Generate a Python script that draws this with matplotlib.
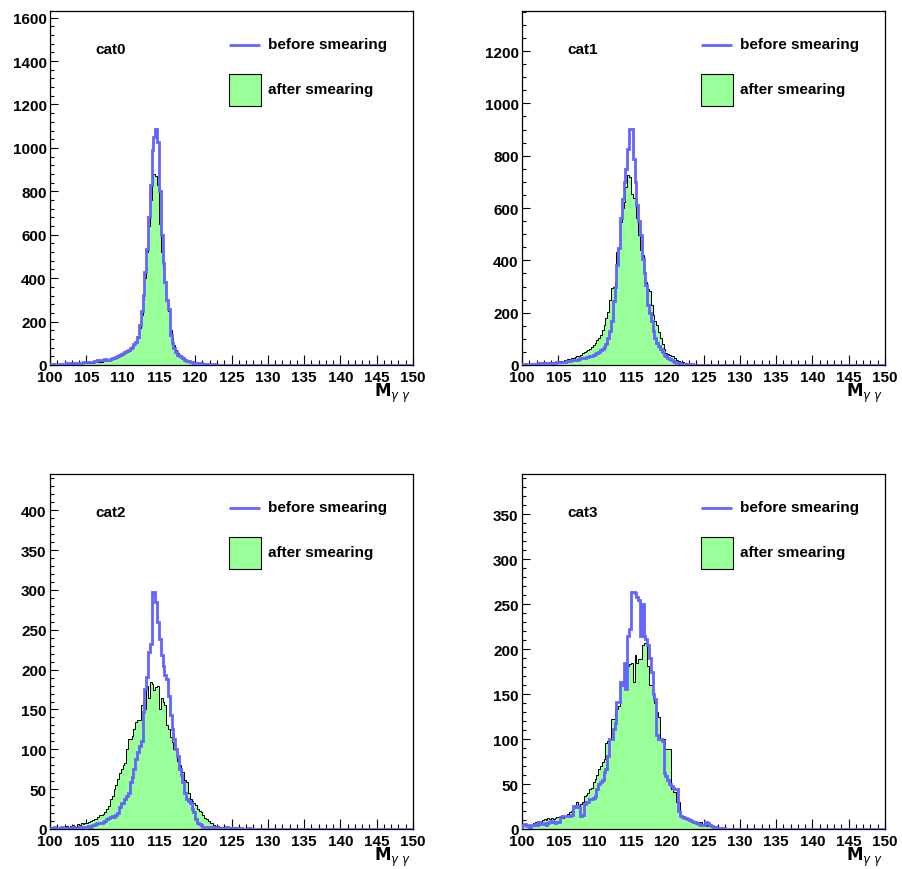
import numpy as np
import matplotlib
matplotlib.use("Agg")
import matplotlib.pyplot as plt
from matplotlib.ticker import MultipleLocator
from matplotlib.patches import Rectangle

# ---------------- data: bin contents, 200 bins of 0.25 from 100 to 150 (one row = 5 units) ----------------
x_min, x_max, n_bins = 100.0, 150.0, 200
categories = ["cat0", "cat1", "cat2", "cat3"]

cat0_before = [
    3, 3, 4, 4, 5, 4, 5, 6, 6, 7, 7, 8, 8, 9, 9, 10, 10, 11, 12, 12,
    13, 14, 15, 16, 18, 20, 22, 25, 24, 22, 26, 24, 23, 26, 30, 32, 36, 40, 46, 50,
    55, 60, 65, 70, 77, 85, 95, 107, 130, 184, 250, 322, 430, 536, 680, 827, 988, 1050, 1087, 1026,
    800, 597, 470, 383, 300, 260, 138, 100, 77, 60, 48, 40, 35, 30, 25, 20, 17, 15, 13, 11,
    10, 9, 8, 7, 6, 5, 5, 4, 3, 3, 3, 2, 2, 2, 2, 1, 1, 1, 1, 0,
    1, 0, 0, 1, 0, 0, 0, 0, 0, 0, 0, 0, 0, 0, 0, 0, 0, 0, 0, 0,
    0, 0, 0, 0, 0, 0, 0, 0, 0, 0, 0, 0, 0, 0, 0, 0, 0, 0, 0, 0,
    0, 0, 0, 0, 0, 0, 0, 0, 0, 0, 0, 0, 0, 0, 0, 0, 0, 0, 0, 0,
    0, 0, 0, 0, 0, 0, 0, 0, 0, 0, 0, 0, 0, 0, 0, 0, 0, 0, 0, 0,
    0, 0, 0, 0, 0, 0, 0, 0, 0, 0, 0, 0, 0, 0, 0, 0, 0, 0, 0, 0]
cat0_after = [
    2, 2, 2, 3, 2, 3, 3, 4, 4, 4, 5, 5, 5, 6, 6, 7, 7, 8, 8, 9,
    9, 10, 10, 11, 12, 13, 14, 15, 16, 17, 19, 21, 24, 26, 28, 30, 34, 38, 42, 46,
    50, 55, 60, 65, 72, 80, 90, 105, 125, 170, 230, 300, 400, 520, 640, 760, 830, 880, 870, 827,
    650, 520, 440, 380, 300, 250, 160, 130, 90, 70, 55, 45, 38, 32, 26, 22, 18, 15, 13, 11,
    9, 8, 7, 6, 5, 4, 4, 3, 3, 2, 2, 2, 1, 1, 1, 1, 1, 0, 1, 0,
    0, 0, 0, 0, 0, 0, 0, 0, 0, 0, 0, 0, 0, 0, 0, 0, 0, 0, 0, 0,
    0, 0, 0, 0, 0, 0, 0, 0, 0, 0, 0, 0, 0, 0, 0, 0, 0, 0, 0, 0,
    0, 0, 0, 0, 0, 0, 0, 0, 0, 0, 0, 0, 0, 0, 0, 0, 0, 0, 0, 0,
    0, 0, 0, 0, 0, 0, 0, 0, 0, 0, 0, 0, 0, 0, 0, 0, 0, 0, 0, 0,
    0, 0, 0, 0, 0, 0, 0, 0, 0, 0, 0, 0, 0, 0, 0, 0, 0, 0, 0, 0]
cat1_before = [
    3, 3, 3, 4, 4, 4, 5, 5, 5, 6, 6, 6, 7, 7, 7, 8, 8, 9, 9, 10,
    10, 11, 12, 13, 14, 15, 16, 18, 19, 20, 21, 23, 25, 27, 28, 30, 31, 33, 36, 40,
    43, 46, 50, 56, 62, 68, 80, 103, 130, 167, 243, 300, 382, 446, 560, 636, 700, 750, 826, 902,
    902, 788, 700, 610, 550, 496, 407, 350, 306, 230, 200, 167, 130, 103, 85, 71, 60, 50, 40, 33,
    28, 22, 18, 14, 11, 9, 7, 5, 4, 3, 3, 2, 2, 2, 1, 1, 1, 1, 1, 0,
    0, 0, 0, 0, 0, 0, 0, 0, 0, 0, 0, 0, 0, 0, 0, 0, 0, 0, 0, 0,
    0, 0, 0, 0, 0, 0, 0, 0, 0, 0, 0, 0, 0, 0, 0, 0, 0, 0, 0, 0,
    0, 0, 0, 0, 0, 0, 0, 0, 0, 0, 0, 0, 0, 0, 0, 0, 0, 0, 0, 0,
    0, 0, 0, 0, 0, 0, 0, 0, 0, 0, 0, 0, 0, 0, 0, 0, 0, 0, 0, 0,
    0, 0, 0, 0, 0, 0, 0, 0, 0, 0, 0, 0, 0, 0, 0, 0, 0, 0, 0, 0]
cat1_after = [
    3, 3, 4, 4, 4, 5, 5, 5, 6, 6, 7, 7, 8, 8, 9, 10, 10, 11, 12, 13,
    14, 15, 17, 18, 20, 22, 24, 26, 28, 31, 33, 36, 40, 45, 50, 53, 58, 63, 70, 78,
    85, 95, 105, 116, 135, 154, 180, 204, 250, 293, 300, 319, 433, 446, 547, 600, 624, 680, 725, 720,
    653, 640, 636, 560, 496, 440, 420, 360, 318, 290, 281, 230, 192, 170, 154, 125, 103, 80, 60, 46,
    42, 38, 35, 33, 25, 20, 15, 12, 10, 8, 7, 5, 4, 3, 3, 2, 2, 1, 1, 1,
    1, 1, 0, 1, 0, 0, 0, 0, 0, 0, 0, 0, 0, 0, 0, 0, 0, 0, 0, 0,
    0, 0, 0, 0, 0, 0, 0, 0, 0, 0, 0, 0, 0, 0, 0, 0, 0, 0, 0, 0,
    0, 0, 0, 0, 0, 0, 0, 0, 0, 0, 0, 0, 0, 0, 0, 0, 0, 0, 0, 0,
    0, 0, 0, 0, 0, 0, 0, 0, 0, 0, 0, 0, 0, 0, 0, 0, 0, 0, 0, 0,
    0, 0, 0, 0, 0, 0, 0, 0, 0, 0, 0, 0, 0, 0, 0, 0, 0, 0, 0, 0]
cat2_before = [
    1, 0, 2, 1, 1, 1, 2, 0, 1, 1, 0, 1, 2, 0, 1, 1, 2, 1, 3, 2,
    3, 4, 3, 5, 5, 6, 7, 8, 8, 9, 10, 12, 14, 15, 16, 15, 17, 20, 28, 33,
    33, 38, 42, 45, 59, 65, 75, 88, 97, 104, 110, 147, 176, 191, 222, 232, 297, 297, 285, 260,
    238, 218, 205, 193, 188, 167, 143, 126, 113, 100, 92, 75, 68, 59, 45, 38, 35, 33, 25, 21,
    12, 8, 6, 5, 3, 3, 2, 2, 2, 1, 1, 2, 1, 1, 0, 1, 1, 2, 1, 1,
    0, 1, 0, 1, 0, 1, 0, 0, 0, 1, 0, 0, 0, 0, 0, 0, 0, 0, 0, 0,
    0, 0, 0, 0, 0, 0, 0, 0, 0, 0, 0, 0, 0, 0, 0, 0, 0, 0, 0, 0,
    0, 0, 0, 0, 0, 0, 0, 0, 0, 0, 0, 0, 0, 0, 0, 0, 0, 0, 0, 0,
    0, 0, 0, 0, 0, 0, 0, 0, 0, 0, 0, 0, 0, 0, 0, 0, 0, 0, 0, 0,
    0, 0, 0, 0, 0, 0, 0, 0, 0, 0, 0, 0, 0, 0, 0, 0, 0, 0, 0, 0]
cat2_after = [
    2, 1, 2, 2, 1, 3, 2, 3, 2, 4, 3, 4, 5, 4, 3, 6, 5, 7, 6, 8,
    7, 9, 10, 11, 12, 13, 15, 17, 17, 19, 21, 25, 29, 38, 42, 50, 55, 63, 70, 75,
    80, 83, 100, 113, 113, 117, 125, 134, 137, 137, 155, 160, 150, 180, 165, 185, 182, 175, 178, 180,
    150, 164, 160, 155, 130, 126, 115, 109, 100, 100, 85, 80, 75, 71, 62, 59, 45, 38, 35, 33,
    30, 25, 22, 21, 18, 14, 12, 10, 8, 7, 5, 4, 4, 3, 3, 2, 2, 2, 1, 2,
    1, 1, 2, 1, 0, 1, 1, 0, 0, 0, 1, 0, 0, 0, 0, 0, 0, 0, 0, 0,
    0, 0, 0, 0, 0, 0, 0, 0, 0, 0, 0, 0, 0, 0, 0, 0, 0, 0, 0, 0,
    0, 0, 0, 0, 0, 0, 0, 0, 0, 0, 0, 0, 0, 0, 0, 0, 0, 0, 0, 0,
    0, 0, 0, 0, 0, 0, 0, 0, 0, 0, 0, 0, 0, 0, 0, 0, 0, 0, 0, 0,
    0, 0, 0, 0, 0, 0, 0, 0, 0, 0, 0, 0, 0, 0, 0, 0, 0, 0, 0, 0]
cat3_before = [
    4, 6, 5, 3, 2, 5, 4, 6, 5, 8, 6, 7, 6, 5, 7, 8, 9, 8, 7, 8,
    8, 13, 14, 14, 15, 14, 15, 16, 26, 25, 26, 24, 14, 16, 28, 30, 30, 33, 33, 35,
    37, 44, 50, 52, 55, 63, 67, 81, 100, 100, 111, 118, 141, 141, 163, 160, 185, 156, 215, 222,
    263, 263, 262, 258, 255, 215, 250, 215, 211, 204, 190, 175, 150, 145, 105, 100, 100, 98, 62, 59,
    55, 50, 48, 46, 44, 44, 20, 14, 13, 12, 12, 11, 10, 9, 8, 8, 7, 6, 5, 4,
    5, 8, 7, 4, 3, 2, 2, 1, 1, 1, 0, 1, 0, 0, 0, 0, 0, 0, 0, 0,
    0, 0, 0, 0, 0, 0, 0, 0, 0, 0, 0, 0, 0, 0, 0, 0, 0, 0, 0, 0,
    0, 0, 0, 0, 0, 0, 0, 0, 0, 0, 0, 0, 0, 0, 0, 0, 0, 0, 0, 0,
    0, 0, 0, 0, 0, 0, 0, 0, 0, 0, 0, 0, 0, 0, 0, 0, 0, 0, 0, 0,
    0, 0, 0, 0, 0, 0, 0, 0, 0, 0, 0, 0, 0, 0, 0, 0, 0, 0, 0, 0]
cat3_after = [
    4, 5, 6, 4, 5, 5, 7, 8, 8, 9, 8, 10, 11, 10, 12, 11, 12, 11, 12, 13,
    13, 14, 12, 15, 14, 17, 19, 20, 26, 27, 30, 26, 28, 30, 37, 38, 40, 44, 46, 52,
    56, 60, 67, 70, 74, 78, 96, 98, 100, 122, 122, 133, 133, 137, 163, 165, 178, 160, 181, 183,
    185, 163, 193, 185, 189, 189, 204, 207, 207, 181, 160, 160, 144, 140, 130, 125, 100, 100, 100, 89,
    89, 89, 44, 41, 41, 30, 30, 15, 15, 15, 11, 11, 11, 8, 8, 8, 8, 8, 8, 4,
    4, 4, 3, 3, 2, 2, 2, 1, 1, 1, 1, 0, 0, 0, 0, 0, 0, 0, 0, 0,
    0, 0, 0, 0, 0, 0, 0, 0, 0, 0, 0, 0, 0, 0, 0, 0, 0, 0, 0, 0,
    0, 0, 0, 0, 0, 0, 0, 0, 0, 0, 0, 0, 0, 0, 0, 0, 0, 0, 0, 0,
    0, 0, 0, 0, 0, 0, 0, 0, 0, 0, 0, 0, 0, 0, 0, 0, 0, 0, 0, 0,
    0, 0, 0, 0, 0, 0, 0, 0, 0, 0, 0, 0, 0, 0, 0, 0, 0, 0, 0, 0]

before_series = [cat0_before, cat1_before, cat2_before, cat3_before]
after_series = [cat0_after, cat1_after, cat2_after, cat3_after]
y_major = [200, 200, 50, 50]
y_minor = [40, 50, 10, 10]
legend_before = "before smearing"
legend_after = "after smearing"
x_label = r"$\mathbf{M}_{\gamma\ \gamma}$"

# ---------------- style ----------------
BLUE = "#6464ff"
GREEN = "#99ff99"
FONT = "Liberation Sans"
FS = 11

W, H = 902, 870
fig = plt.figure(figsize=(W / 100, H / 100), dpi=100)
fig.patch.set_facecolor("white")

# pixel boxes (left, top, right, bottom)
boxes = [(50, 12, 413, 366), (522, 12, 885, 366),
         (50, 475, 413, 830), (522, 475, 885, 830)]

edges = np.linspace(x_min, x_max, n_bins + 1)

for i, (l, t, r, b) in enumerate(boxes):
    ax = fig.add_axes([l / W, 1 - b / H, (r - l) / W, (b - t) / H])
    before = np.asarray(before_series[i], dtype=float)
    after = np.asarray(after_series[i], dtype=float)

    ax.stairs(after, edges, fill=True, facecolor=GREEN, edgecolor="none", zorder=2)
    ax.stairs(after, edges, color="black", lw=0.7, zorder=3)
    ax.stairs(before, edges, color=BLUE, lw=2.0, zorder=4)

    ax.set_xlim(x_min, x_max)
    ax.set_ylim(0, 1.5 * before.max())

    ax.xaxis.set_major_locator(MultipleLocator(5))
    ax.xaxis.set_minor_locator(MultipleLocator(1))
    ax.yaxis.set_major_locator(MultipleLocator(y_major[i]))
    ax.yaxis.set_minor_locator(MultipleLocator(y_minor[i]))
    ax.tick_params(axis="x", which="major", direction="in", length=7.5, width=0.8, pad=3.5)
    ax.tick_params(axis="x", which="minor", direction="in", length=3.8, width=0.8)
    ax.tick_params(axis="y", which="major", direction="in", length=5.8, width=0.8, pad=2.5)
    ax.tick_params(axis="y", which="minor", direction="in", length=3.0, width=0.8)
    ax.tick_params(top=False, right=False, which="both")
    for lab in ax.get_xticklabels() + ax.get_yticklabels():
        lab.set_fontfamily(FONT)
        lab.set_fontweight("bold")
        lab.set_fontsize(FS)
    for s in ax.spines.values():
        s.set_linewidth(0.9)

    # category label
    ax.text(0.124, 0.893, categories[i], transform=ax.transAxes, fontfamily=FONT,
            fontweight="bold", fontsize=FS, ha="left", va="center")
    # legend
    ax.plot([0.493, 0.579], [0.905, 0.905], transform=ax.transAxes, color=BLUE, lw=2.0,
            solid_capstyle="butt", clip_on=False)
    ax.text(0.600, 0.907, legend_before, transform=ax.transAxes, fontfamily=FONT,
            fontweight="bold", fontsize=FS, ha="left", va="center")
    ax.add_patch(Rectangle((0.493, 0.732), 0.088, 0.09, transform=ax.transAxes,
                           facecolor=GREEN, edgecolor="black", lw=0.8, zorder=5))
    ax.text(0.600, 0.78, legend_after, transform=ax.transAxes, fontfamily=FONT,
            fontweight="bold", fontsize=FS, ha="left", va="center")
    # x label
    ax.text(0.993, -0.088, x_label, transform=ax.transAxes, fontsize=FS + 1,
            ha="right", va="baseline")

fig.savefig("out.png", dpi=100)
